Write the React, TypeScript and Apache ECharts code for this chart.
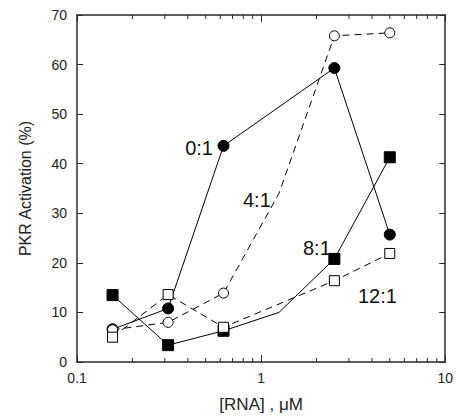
import React, { useEffect, useRef } from "react";
import * as echarts from "echarts";

const FONT = "Liberation Sans, Arial, Helvetica, sans-serif";

// Data (RNA concentration in µM, PKR activation %)
const ratio01X = [0.156, 0.3125, 0.625, 2.5, 5];
const ratio01Y = [6.6, 10.8, 43.6, 59.3, 25.7];

const ratio41X = [0.156, 0.3125, 0.625, 1.25, 2.5, 5];
const ratio41Y = [6.5, 8.0, 13.9, 34.0, 65.8, 66.4];

const ratio81X = [0.156, 0.3125, 0.625, 1.25, 2.5, 5];
const ratio81Y = [13.5, 3.4, 6.3, 10.0, 20.8, 41.3];

const ratio121X = [0.156, 0.3125, 0.625, 2.5, 5];
const ratio121Y = [5.0, 13.6, 7.0, 16.4, 21.9];

// points without a drawn marker
const unmarkedX = [1.25];

const minorTickValues = [0.2, 0.3, 0.4, 0.5, 0.6, 0.7, 0.8, 0.9, 2, 3, 4, 5, 6, 7, 8, 9];
const yTicks = { min: 0, max: 70, interval: 10 };
const xRange = { min: 0.1, max: 10 };

const seriesLabels = [
  { text: "0:1", x: 213, y: 148, align: "right" },
  { text: "4:1", x: 243, y: 200, align: "left" },
  { text: "8:1", x: 303, y: 247.5, align: "left" },
  { text: "12:1", x: 358, y: 296, align: "left" },
];

function build(xs: number[], ys: number[]) {
  return xs.map((x, i) =>
    unmarkedX.includes(x) ? { value: [x, ys[i]], symbol: "none" } : { value: [x, ys[i]] }
  );
}

const AXIS_COLOR = "#2a2a2a";

export default function App() {
  const ref = useRef<HTMLDivElement>(null);
  useEffect(() => {
    if (!ref.current) return;
    const chart = echarts.init(ref.current, undefined, { renderer: "svg" });
    const axisLine = { show: true, onZero: false, lineStyle: { color: AXIS_COLOR, width: 1.5 } };
    const lineBase = { color: "#000", width: 1 };
    chart.setOption({
      animation: false,
      backgroundColor: "#fff",
      grid: { left: 77, right: 9, top: 15, bottom: 51.5, containLabel: false },
      xAxis: [
        {
          type: "log",
          logBase: 10,
          min: xRange.min,
          max: xRange.max,
          position: "bottom",
          axisLine,
          axisTick: { show: true, inside: true, length: 7, lineStyle: { color: AXIS_COLOR, width: 1 } },
          axisLabel: {
            fontSize: 14,
            margin: 9,
            color: "#222",
            fontFamily: FONT,
            formatter: (v: number) => String(parseFloat(v.toPrecision(3))),
          },
          splitLine: { show: false },
          name: "[RNA] , μM",
          nameLocation: "middle",
          nameGap: 34,
          nameTextStyle: { fontSize: 17, color: "#222", fontFamily: FONT },
        },
        {
          type: "log",
          logBase: 10,
          min: xRange.min,
          max: xRange.max,
          position: "top",
          axisLine,
          axisTick: { show: true, inside: true, length: 7, lineStyle: { color: AXIS_COLOR, width: 1 } },
          axisLabel: { show: false },
          splitLine: { show: false },
        },
      ],
      yAxis: [
        {
          type: "value",
          min: yTicks.min,
          max: yTicks.max,
          interval: yTicks.interval,
          position: "left",
          axisLine,
          axisTick: { show: true, inside: true, length: 6, lineStyle: { color: AXIS_COLOR, width: 1 } },
          axisLabel: { fontSize: 14, margin: 10, color: "#222", fontFamily: FONT },
          splitLine: { show: false },
          name: "PKR Activation (%)",
          nameLocation: "middle",
          nameGap: 44,
          nameTextStyle: { fontSize: 16, color: "#222", fontFamily: FONT },
        },
        {
          type: "value",
          min: yTicks.min,
          max: yTicks.max,
          interval: yTicks.interval,
          position: "right",
          axisLine,
          axisTick: { show: true, inside: true, length: 6, lineStyle: { color: AXIS_COLOR, width: 1 } },
          axisLabel: { show: false },
          splitLine: { show: false },
        },
      ],
      series: [
        {
          type: "custom",
          name: "minorTicks",
          xAxisIndex: 0,
          yAxisIndex: 0,
          silent: true,
          clip: false,
          data: minorTickValues.map((v) => [v, yTicks.min]),
          renderItem: (_p: any, api: any) => {
            const v = api.value(0);
            const b = api.coord([v, yTicks.min]);
            const t = api.coord([v, yTicks.max]);
            const style = { stroke: AXIS_COLOR, lineWidth: 1 };
            return {
              type: "group",
              children: [
                { type: "line", shape: { x1: b[0], y1: b[1], x2: b[0], y2: b[1] - 4 }, style },
                { type: "line", shape: { x1: t[0], y1: t[1], x2: t[0], y2: t[1] + 4 }, style },
              ],
            };
          },
        },
        {
          type: "line",
          name: "0:1",
          data: build(ratio01X, ratio01Y),
          symbol: "circle",
          symbolSize: 11,
          lineStyle: { ...lineBase, type: "solid" },
          itemStyle: { color: "#000", borderColor: "#000", borderWidth: 1 },
        },
        {
          type: "line",
          name: "8:1",
          data: build(ratio81X, ratio81Y),
          symbol: "rect",
          symbolSize: 11,
          lineStyle: { ...lineBase, type: "solid" },
          itemStyle: { color: "#000", borderColor: "#000", borderWidth: 1 },
        },
        {
          type: "line",
          name: "4:1",
          data: build(ratio41X, ratio41Y),
          symbol: "circle",
          symbolSize: 10,
          lineStyle: { ...lineBase, type: [7, 5] },
          itemStyle: { color: "#fff", borderColor: "#000", borderWidth: 1 },
        },
        {
          type: "line",
          name: "12:1",
          data: build(ratio121X, ratio121Y),
          symbol: "rect",
          symbolSize: 10,
          lineStyle: { ...lineBase, type: [7, 5] },
          itemStyle: { color: "#fff", borderColor: "#000", borderWidth: 1 },
        },
      ],
      graphic: seriesLabels.map((l) => ({
        type: "text",
        x: l.x,
        y: l.y,
        style: {
          text: l.text,
          fill: "#111",
          fontSize: 20,
          fontFamily: FONT,
          align: l.align,
          verticalAlign: "middle",
        },
      })),
    });
    return () => chart.dispose();
  }, []);
  return (
    <div
      ref={ref}
      style={{ position: "fixed", left: 0, top: 0, width: 456, height: 418, background: "#fff" }}
    />
  );
}
